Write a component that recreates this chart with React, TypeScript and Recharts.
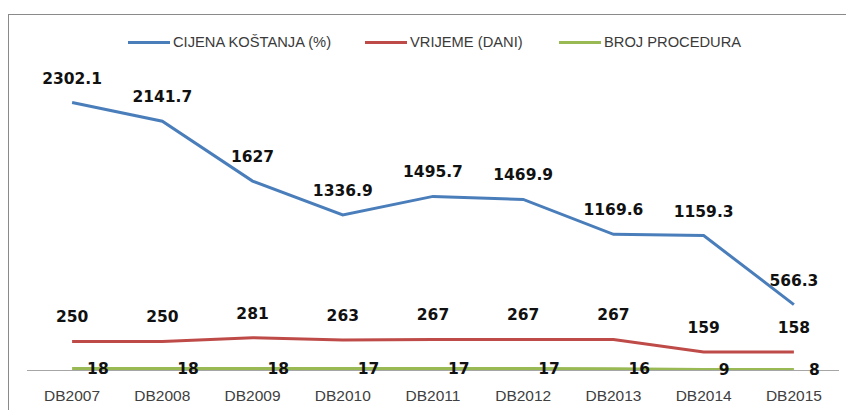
import React from 'react';
import { LineChart, Line, XAxis, YAxis, Legend, LabelList } from 'recharts';

const categories = ['DB2007', 'DB2008', 'DB2009', 'DB2010', 'DB2011', 'DB2012', 'DB2013', 'DB2014', 'DB2015'];
const cijenaKostanja = [2302.1, 2141.7, 1627, 1336.9, 1495.7, 1469.9, 1169.6, 1159.3, 566.3];
const vrijemeDani = [250, 250, 281, 263, 267, 267, 267, 159, 158];
const brojProcedura = [18, 18, 18, 17, 17, 17, 16, 9, 8];

const seriesNames = ['CIJENA KOŠTANJA (%)', 'VRIJEME (DANI)', 'BROJ PROCEDURA'];
const seriesColors = ['#4A7EBB', '#BE4B48', '#98B954'];

const data = categories.map((c, i) => ({
  name: c,
  cijena: cijenaKostanja[i],
  vrijeme: vrijemeDani[i],
  procedure: brojProcedura[i],
}));

const legendLefts = [128, 365, 559];

const CustomLegend = () => (
  <div style={{ position: 'relative', width: 846, height: 20 }}>
    {seriesNames.map((n, i) => (
      <div
        key={n}
        style={{
          position: 'absolute',
          left: legendLefts[i],
          top: 0,
          height: 20,
          display: 'flex',
          alignItems: 'center',
          whiteSpace: 'nowrap',
        }}
      >
        <div style={{ width: 42, height: 3, background: seriesColors[i], marginRight: 3 }} />
        <span
          style={{
            fontFamily: '"Liberation Sans", Arial, sans-serif',
            fontSize: 14.7,
            color: '#3a3a3a',
            lineHeight: '20px',
          }}
        >
          {n}
        </span>
      </div>
    ))}
  </div>
);

const labelStyle = {
  fontFamily: '"DejaVu Sans", sans-serif',
  fontSize: 15.5,
  fontWeight: 'bold' as const,
  fill: '#111111',
};

export default function App() {
  return (
    <div style={{ position: 'absolute', left: 0, top: 0, width: 846, height: 410, background: '#ffffff', overflow: 'hidden' }}>
      <div
        style={{
          position: 'absolute',
          left: 8,
          top: 14,
          width: 900,
          height: 500,
          borderLeft: '1.5px solid #8a8a8a',
          borderTop: '1.5px solid #8a8a8a',
        }}
      />
      <div style={{ position: 'absolute', left: 0, top: 0 }}>
        <LineChart
          width={846}
          height={410}
          data={data}
          margin={{ top: 79.5, right: 7, left: 27, bottom: 9.5 }}
        >
          <XAxis
            dataKey="name"
            height={30}
            padding={{ left: 45.1, right: 45.1 }}
            tickLine={false}
            tickSize={8}
            tickMargin={11}
            axisLine={{ stroke: '#a6a6a6', strokeWidth: 1.2 }}
            tick={{ fontFamily: '"Liberation Sans", Arial, sans-serif', fontSize: 15.5, fill: '#404040' }}
            interval={0}
          />
          <YAxis hide domain={[0, 2500]} type="number" />
          <Legend
            layout="horizontal"
            verticalAlign="middle"
            align="center"
            content={<CustomLegend />}
            wrapperStyle={{ position: 'absolute', left: 0, top: 32, width: 846, height: 20 }}
          />
          <Line
            dataKey="cijena"
            name={seriesNames[0]}
            stroke={seriesColors[0]}
            strokeWidth={3}
            dot={false}
            isAnimationActive={false}
          >
            <LabelList dataKey="cijena" position="top" offset={19} style={labelStyle} />
          </Line>
          <Line
            dataKey="vrijeme"
            name={seriesNames[1]}
            stroke={seriesColors[1]}
            strokeWidth={3}
            dot={false}
            isAnimationActive={false}
          >
            <LabelList dataKey="vrijeme" position="top" offset={19} style={labelStyle} />
          </Line>
          <Line
            dataKey="procedure"
            name={seriesNames[2]}
            stroke={seriesColors[2]}
            strokeWidth={3}
            dot={false}
            isAnimationActive={false}
          >
            <LabelList dataKey="procedure" position="right" offset={15} style={labelStyle} />
          </Line>
        </LineChart>
      </div>
    </div>
  );
}
